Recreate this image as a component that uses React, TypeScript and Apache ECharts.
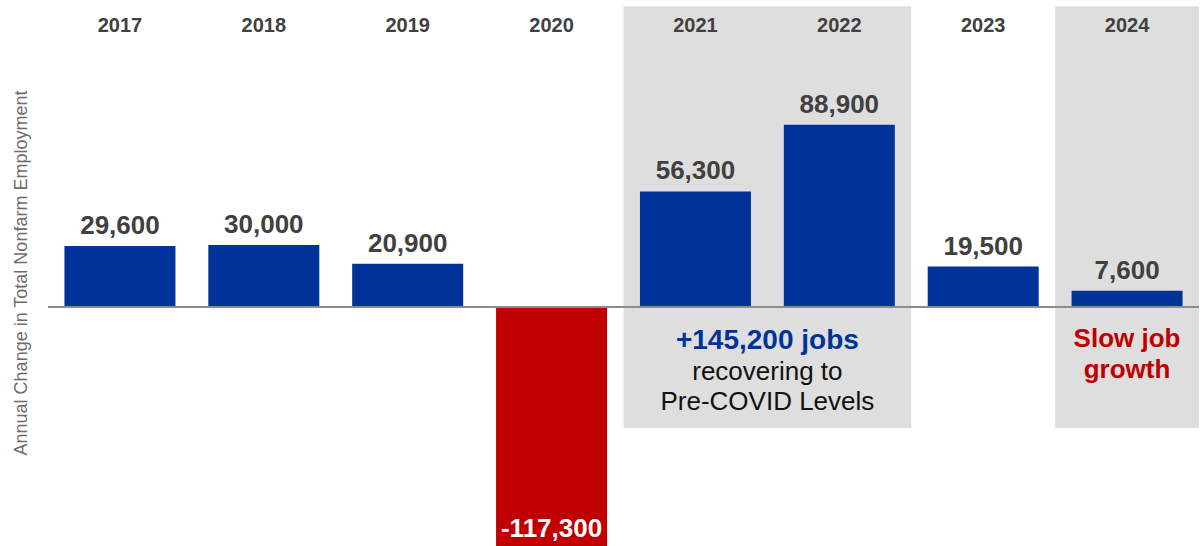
import React, { useEffect, useRef } from "react";
import * as echarts from "echarts";

const years = ["2017", "2018", "2019", "2020", "2021", "2022", "2023", "2024"];
const changes = [29600, 30000, 20900, -117300, 56300, 88900, 19500, 7600];

// highlighted regions (category index start/end, value top/bottom)
const regionStart = [4, 7];
const regionEnd = [5, 7];
const regionTop = [147000, 147000];
const regionBottom = [-59500, -59500];
const regionNotes = [
  "{a|+145,200 jobs}\n{b|recovering to}\n{b|Pre-COVID Levels}",
  "{c|Slow job}\n{c|growth}",
];

const FONT = "'Liberation Sans', Arial, sans-serif";
const BLUE = "#003399";
const RED = "#c00000";
const GRAY = "#dedede";

export default function App() {
  const ref = useRef<HTMLDivElement>(null);
  useEffect(() => {
    if (!ref.current) return;
    const chart = echarts.init(ref.current, null, { renderer: "svg" });
    const regionData = regionStart.map((s, i) => [s, regionEnd[i], regionTop[i], regionBottom[i]]);
    chart.setOption({
      animation: false,
      textStyle: { fontFamily: FONT },
      grid: { left: 48, right: 2, top: 0, bottom: 0, containLabel: false },
      xAxis: {
        type: "category",
        data: years,
        position: "top",
        axisLine: { show: false },
        axisTick: { show: false },
        axisLabel: {
          inside: true,
          margin: 15,
          color: "#404040",
          fontSize: 20,
          fontWeight: "bold",
          fontFamily: FONT,
        },
        z: 5,
      },
      yAxis: {
        type: "value",
        min: -117300,
        max: 150000,
        axisLine: { show: false },
        axisTick: { show: false },
        axisLabel: { show: false },
        splitLine: { show: false },
        name: "Annual Change in Total Nonfarm Employment",
        nameLocation: "middle",
        nameGap: 18,
        nameTextStyle: { color: "#6d6d6d", fontSize: 18, fontFamily: FONT },
      },
      series: [
        {
          type: "custom",
          z: 1,
          encode: { x: [0, 1], y: [2, 3] },
          data: regionData,
          renderItem: (params: any, api: any) => {
            const s = api.value(0);
            const e = api.value(1);
            const p1 = api.coord([s, api.value(2)]);
            const p2 = api.coord([e, api.value(3)]);
            const bw = api.size([1, 0])[0];
            const zeroY = api.coord([s, 0])[1];
            const x = p1[0] - bw / 2;
            const w = p2[0] - p1[0] + bw;
            return {
              type: "group",
              children: [
                {
                  type: "rect",
                  shape: { x, y: p1[1], width: w, height: p2[1] - p1[1] },
                  style: { fill: GRAY },
                },
                {
                  type: "text",
                  style: {
                    x: x + w / 2,
                    y: zeroY + 16,
                    text: regionNotes[params.dataIndex],
                    align: "center",
                    verticalAlign: "top",
                    rich: {
                      a: { fontSize: 28, fontWeight: "bold", fill: BLUE, color: BLUE, lineHeight: 34, fontFamily: FONT, align: "center" },
                      b: { fontSize: 26, fill: "#111111", color: "#111111", lineHeight: 30, fontFamily: FONT, align: "center" },
                      c: { fontSize: 26, fontWeight: "bold", fill: RED, color: RED, lineHeight: 31, fontFamily: FONT, align: "center" },
                    },
                  },
                },
              ],
            };
          },
        },
        {
          type: "bar",
          z: 3,
          barWidth: 111,
          data: changes.map((v) => ({
            value: v,
            itemStyle: { color: v < 0 ? RED : BLUE },
            label: v < 0
              ? { position: "insideBottom", color: "#ffffff", distance: 5 }
              : { position: "top", color: "#404040", distance: 8 },
          })),
          label: {
            show: true,
            fontSize: 26,
            fontWeight: "bold",
            fontFamily: FONT,
            formatter: (p: any) => Number(p.value).toLocaleString("en-US"),
          },
          markLine: {
            silent: true,
            symbol: ["none", "none"],
            label: { show: false },
            lineStyle: { color: "#8c8c8c", width: 2, type: "solid" },
            data: [{ yAxis: 0 }],
          },
        },
      ],
    });
    return () => chart.dispose();
  }, []);
  return (
    <div
      ref={ref}
      style={{ position: "fixed", left: 0, top: 0, width: 1201, height: 546, background: "#ffffff" }}
    />
  );
}
